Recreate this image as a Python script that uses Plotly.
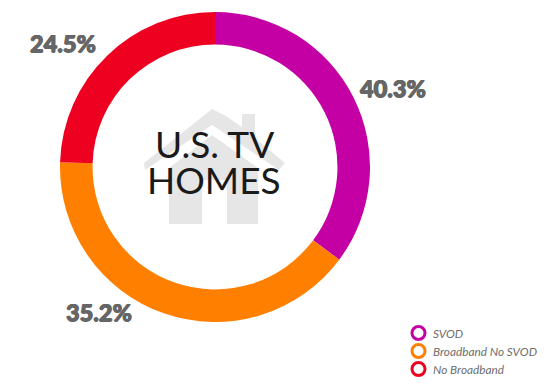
import plotly.graph_objects as go

categories = ["SVOD", "Broadband No SVOD", "No Broadband"]
label_shares = [40.3, 35.2, 24.5]
arc_shares = [35.2, 40.3, 24.5]
colors = ["#C400A5", "#FF7F00", "#EE0020"]
center_lines = ["U.S. TV", "HOMES"]

W, H = 547, 391
def px(x): return x / W
def py(y): return 1 - y / H

def path(points):
    return "M" + " L".join(f"{px(x):.5f},{py(y):.5f}" for x, y in points) + " Z"

fig = go.Figure()
fig.add_trace(go.Pie(
    values=arc_shares, labels=categories, sort=False, direction="clockwise", rotation=0,
    hole=0.79, marker=dict(colors=colors, line=dict(width=0)),
    textinfo="none", hoverinfo="label+percent", showlegend=False,
    domain=dict(x=[px(60), px(370)], y=[py(322), py(12)]),
))

house_gray = "#E6E6E6"
roof = [(212, 109), (226, 116), (242, 127), (242, 114), (255, 114), (255, 138), (285, 163), (279, 170),
        (212, 125), (145, 170), (144, 163)]
body = [(212, 135), (258, 168), (258, 224), (227, 224), (227, 180), (202, 180), (202, 224), (169, 224), (169, 168)]
shapes = [dict(type="path", path=path(p), xref="paper", yref="paper", fillcolor=house_gray,
               line=dict(width=0), layer="below") for p in (roof, body)]

annotations = []
legend_rows = (333, 351, 369)
for name, color, y in zip(categories, colors, legend_rows):
    shapes.append(dict(type="circle", xref="paper", yref="paper",
                       x0=px(412), x1=px(425), y0=py(y + 6.5), y1=py(y - 6.5),
                       line=dict(color=color, width=3), fillcolor="white"))
    annotations.append(dict(text=f"<i>{name}</i>", x=px(431), y=py(y), xref="paper", yref="paper",
                            showarrow=False, xanchor="left", yanchor="middle",
                            font=dict(family="Lato", size=11.8, color="#6E6E6E")))

pct_pos = [(393, 88), (99, 312), (63, 43)]
for v, (x, y) in zip(label_shares, pct_pos):
    annotations.append(dict(text=f"{v}%", x=px(x), y=py(y), xref="paper", yref="paper", showarrow=False,
                            xanchor="center", yanchor="middle",
                            font=dict(family="Lato", size=23.5, color="#666666", weight=900,
                                      shadow="0.6px 0 0 #666666, -0.6px 0 0 #666666, 0 0.5px 0 #666666")))
for line, y in zip(center_lines, (143, 180)):
    annotations.append(dict(text=line, x=px(214), y=py(y), xref="paper", yref="paper", showarrow=False,
                            xanchor="center", yanchor="middle",
                            font=dict(family="Lato", size=37, color="#1A1A1A")))

fig.update_layout(
    width=W, height=H, margin=dict(l=0, r=0, t=0, b=0),
    paper_bgcolor="white", plot_bgcolor="white",
    shapes=shapes, annotations=annotations,
)
fig.write_html("out.html", post_script="document.body.style.margin='0';",
               config=dict(displayModeBar=False))
